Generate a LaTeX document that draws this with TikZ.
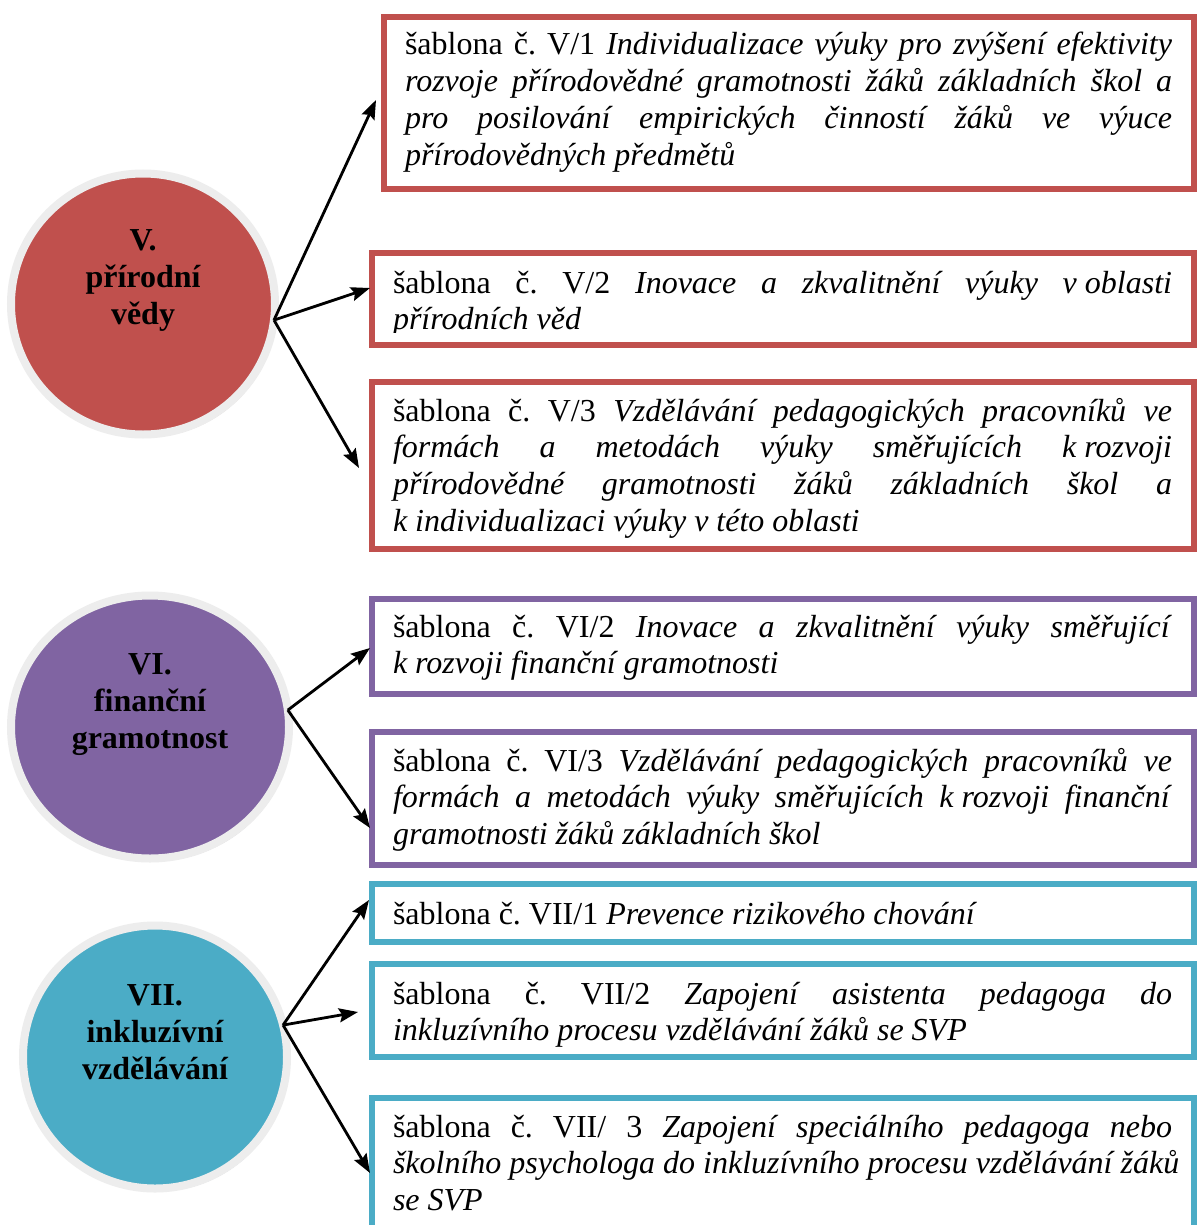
\documentclass[tikz,border=0pt]{standalone}
\usepackage{fontspec}
\setmainfont{Liberation Serif}
\usetikzlibrary{shapes.geometric,arrows.meta,shadows}
\definecolor{redv}{HTML}{C0504D}
\definecolor{purv}{HTML}{8064A2}
\definecolor{teav}{HTML}{4BACC6}
\definecolor{ringg}{HTML}{EDEDED}
\newcommand\myjl[1]{\hbox to\hsize{#1}}
\newcommand\mylast[1]{\hbox{#1}}
\newcommand\nbs{\hspace{0.25em}}
\tikzset{
  circ/.style={ellipse, draw=ringg, line width=8pt, inner sep=0pt, outer sep=0pt, fill=#1,
    drop shadow={shadow xshift=2pt, shadow yshift=-3pt, fill=#1!55!black, opacity=0.5}},
  boxx/.style={draw=#1, line width=6pt, anchor=north west, inner sep=0pt, outer sep=0pt},
  txt/.style={anchor=base west, inner sep=0pt, outer sep=0pt, font=\fontsize{32}{36.7}\selectfont\frenchspacing},
  lbl/.style={anchor=base, inner sep=0pt, outer sep=0pt, font=\fontsize{32}{37}\selectfont\bfseries},
  arr/.style={line width=2.8pt, -{Stealth[length=19pt,width=14pt,inset=3pt]}}
}
\begin{document}
\begin{tikzpicture}[x=1pt,y=-1pt]
\useasboundingbox (0,0) rectangle (1198,1225);
\fill[white] (0,0) rectangle (1198,1225);

% circles
\node[circ=redv, minimum width=264pt, minimum height=261pt] (c5) at (143,304) {};
\node[circ=purv, minimum width=278pt, minimum height=263pt] (c6) at (150,727) {};
\node[circ=teav, minimum width=264pt, minimum height=263pt] (c7) at (155,1057) {};

\node[lbl] (l5) at (143,250) {\vtop{\hbox to 260pt{\hss V.\hss}\hbox to 260pt{\hss přírodní\hss}\hbox to 260pt{\hss vědy\hss}}};
\node[lbl] (l6) at (150,674) {\vtop{\hbox to 260pt{\hss VI.\hss}\hbox to 260pt{\hss finanční\hss}\hbox to 260pt{\hss gramotnost\hss}}};
\node[lbl] (l7) at (155,1005) {\vtop{\hbox to 260pt{\hss VII.\hss}\hbox to 260pt{\hss inkluzívní\hss}\hbox to 260pt{\hss vzdělávání\hss}}};

% box texts
\node[txt] (x51) at (405,55) {\vtop{\hsize=767pt
  \myjl{šablona č. V/1 \textit{Individualizace výuky pro zvýšení efektivity}}
  \myjl{\textit{rozvoje přírodovědné gramotnosti žáků základních škol a}}
  \myjl{\textit{pro posilování empirických činností žáků ve výuce}}
  \mylast{\textit{přírodovědných předmětů}}}};
\begin{scope}
\clip (372,253) rectangle (1194,332);
\node[txt] (x52) at (393,293) {\vtop{\hsize=779pt
  \myjl{šablona č. V/2 \textit{Inovace a zkvalitnění výuky v\nbs oblasti}}
  \mylast{\textit{přírodních věd}}}};
\end{scope}
\node[txt] (x53) at (393,421) {\vtop{\hsize=779pt
  \myjl{šablona č. V/3 \textit{Vzdělávání pedagogických pracovníků ve}}
  \myjl{\textit{formách a metodách výuky směřujících k\nbs rozvoji}}
  \myjl{\textit{přírodovědné gramotnosti žáků základních škol a}}
  \mylast{\textit{k\nbs individualizaci výuky v\nbs této oblasti}}}};
\node[txt] (x61) at (393,637) {\vtop{\hsize=779pt
  \myjl{šablona č. VI/2 \textit{Inovace a zkvalitnění výuky směřující}}
  \mylast{\textit{k\nbs rozvoji finanční gramotnosti}}}};
\node[txt] (x62) at (393,771) {\vtop{\hsize=779pt
  \myjl{šablona č. VI/3 \textit{Vzdělávání pedagogických pracovníků ve}}
  \myjl{\textit{formách a metodách výuky směřujících k\nbs rozvoji finanční}}
  \mylast{\textit{gramotnosti žáků základních škol}}}};
\node[txt] (x71) at (393,924) {\vtop{\hsize=779pt
  \mylast{šablona č. VII/1 \textit{Prevence rizikového chování}}}};
\node[txt] (x72) at (393,1004) {\vtop{\hsize=779pt
  \myjl{šablona č. VII/2 \textit{Zapojení asistenta pedagoga do}}
  \mylast{\textit{inkluzívního procesu vzdělávání žáků se SVP}}}};
\node[txt] (x73) at (393,1137) {\vtop{\hsize=779pt
  \myjl{šablona č. VII/ 3 \textit{Zapojení speciálního pedagoga nebo}}
  \mylast{\textit{školního psychologa do inkluzívního procesu vzdělávání žáků}}
  \mylast{\textit{se SVP}}}};

% boxes
\node[boxx=redv, minimum width=810pt, minimum height=172pt] (b51) at (384,17) {};
\node[boxx=redv, minimum width=822pt, minimum height=92pt] (b52) at (372,253) {};
\node[boxx=redv, minimum width=822pt, minimum height=167pt] (b53) at (372,382) {};
\node[boxx=purv, minimum width=822pt, minimum height=95pt] (b61) at (372,599) {};
\node[boxx=purv, minimum width=822pt, minimum height=133pt] (b62) at (372,732) {};
\node[boxx=teav, minimum width=822pt, minimum height=58pt] (b71) at (372,884) {};
\node[boxx=teav, minimum width=822pt, minimum height=93pt] (b72) at (372,964) {};
\node[boxx=teav, minimum width=822pt, minimum height=150pt] (b73) at (372,1098) {};

% arrow tips
\coordinate (t51) at (376,100);
\coordinate (t52) at (370,288);
\coordinate (t53) at (359,468);
\coordinate (t61) at (370,648);
\coordinate (t62) at (370,828);
\coordinate (t71) at (369,900);
\coordinate (t72) at (358,1012);
\coordinate (t73) at (370,1173);

\draw[arr] (c5.-7) -- (t51);
\draw[arr] (c5.-7) -- (t52);
\draw[arr] (c5.-7) -- (t53);
\draw[arr] (c6.7) -- (t61);
\draw[arr] (c6.7) -- (t62);
\draw[arr] (c7.14) -- (t71);
\draw[arr] (c7.14) -- (t72);
\draw[arr] (c7.14) -- (t73);
\end{tikzpicture}
\end{document}
